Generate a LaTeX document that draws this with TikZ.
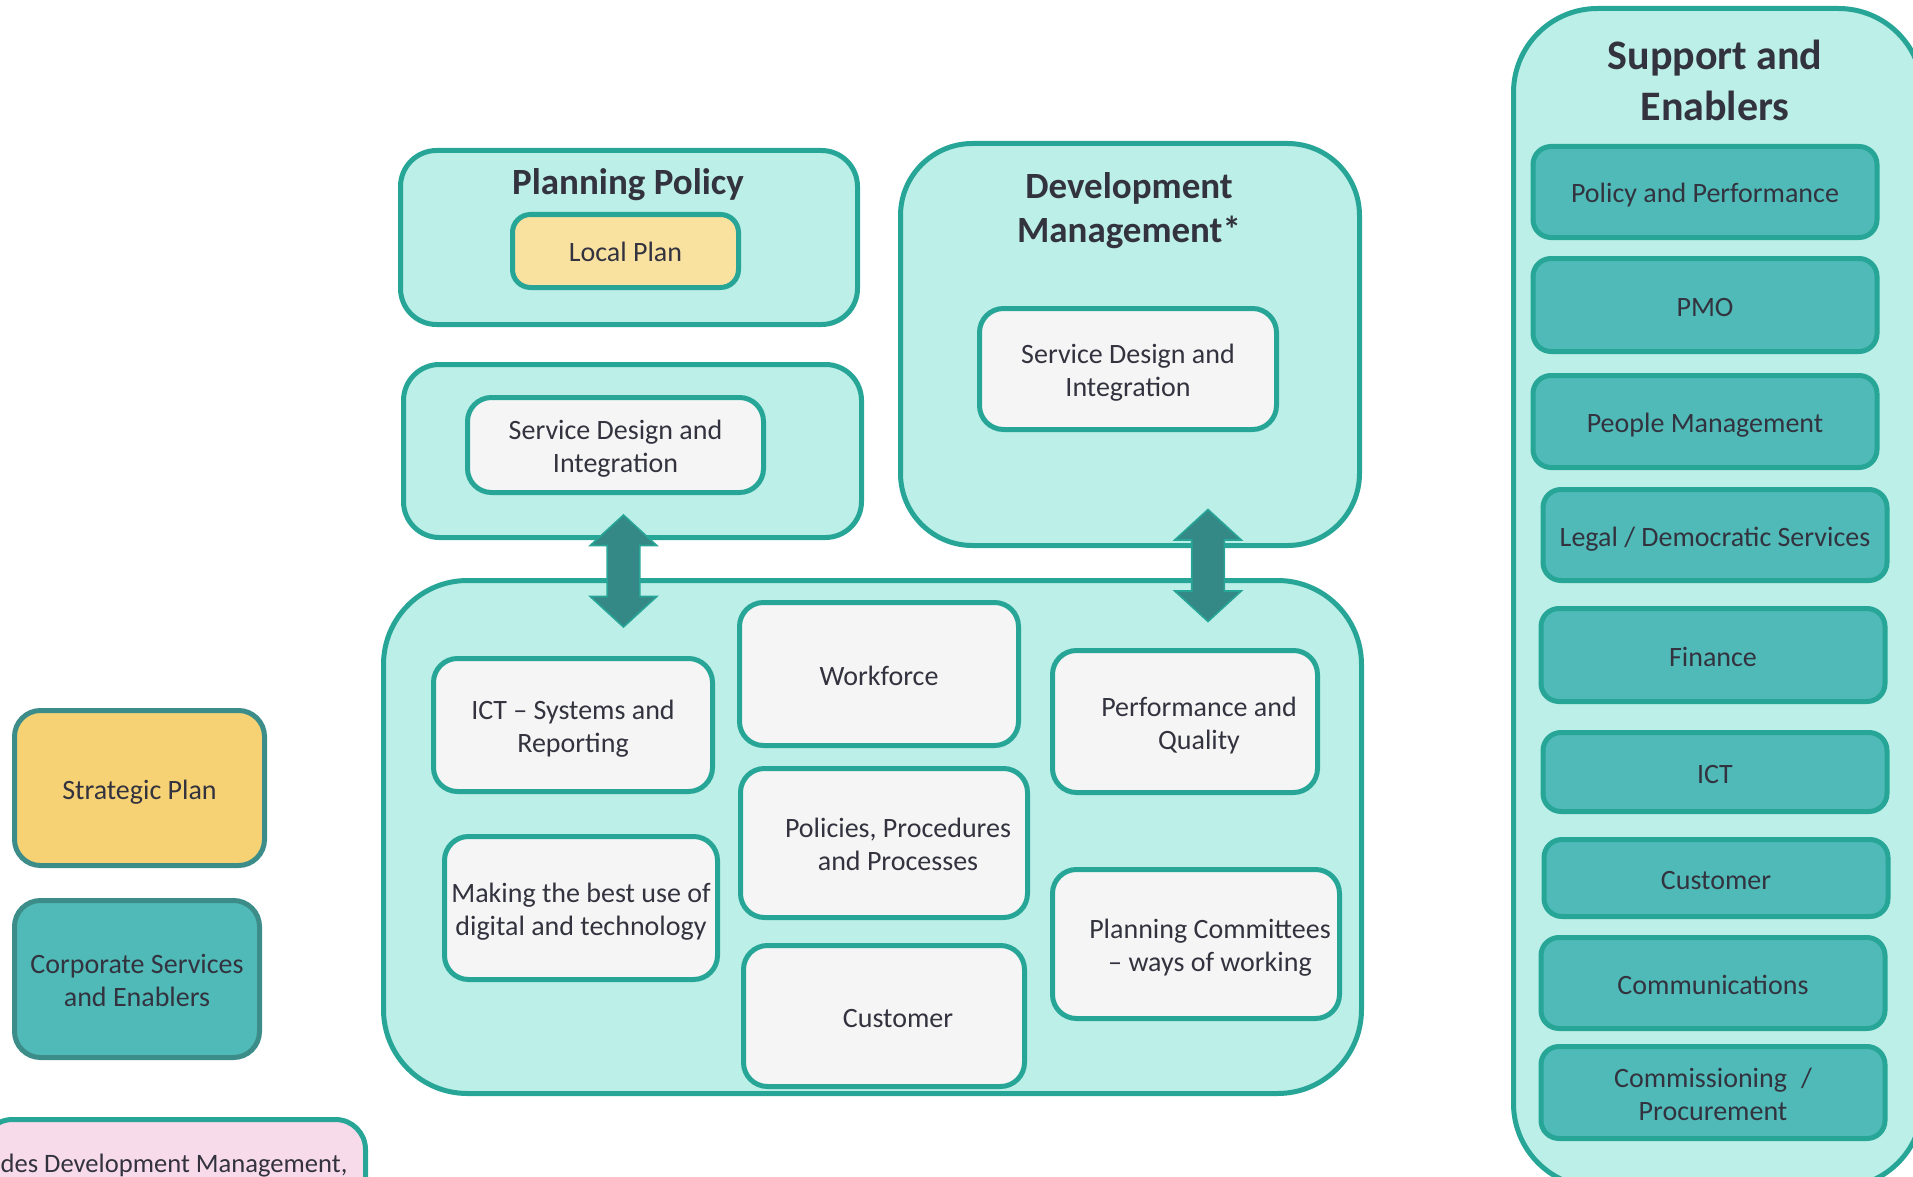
\documentclass[tikz,border=0pt]{standalone}
\usepackage{fontspec}
\setmainfont{Carlito}
\usetikzlibrary{positioning, shapes.arrows}

\definecolor{tealline}{HTML}{27A697}
\definecolor{darkline}{HTML}{3C8D89}
\definecolor{aqua}{HTML}{BCEFE8}
\definecolor{paper}{HTML}{F5F5F5}
\definecolor{sidefill}{HTML}{4FBAB7}
\definecolor{paleyellow}{HTML}{F9E1A0}
\definecolor{gold}{HTML}{F6D275}
\definecolor{arrowfill}{HTML}{348885}
\definecolor{pinkfill}{HTML}{F8DBEA}
\definecolor{ink}{HTML}{33333F}

\newcommand{\nudge}{\hspace*{14pt}}
\newcommand{\boxtop}{\rule{0pt}{14.5pt}}
\newcommand{\boxbot}{\rule[-3.5pt]{0pt}{0pt}}

\begin{document}
\begin{tikzpicture}[x=0.5pt, y=-0.5pt]
    \tikzstyle{every node}=[font=\fontsize{14}{16.5}\selectfont, text=ink]
    \tikzset{
      group/.style={draw=tealline, fill=aqua, line width=2.5pt, rectangle},
      item/.style={draw=tealline, fill=paper, line width=2.5pt, rectangle, rounded corners=12pt, align=center, inner sep=2pt},
      side/.style={draw=tealline, fill=sidefill, line width=2.5pt, rectangle, rounded corners=9pt, align=center, minimum width=172pt},
      key/.style={draw=darkline, line width=2.5pt, rectangle, rounded corners=13pt, align=center},
      heading/.style={font=\bfseries\fontsize{18.5}{22}\selectfont, align=center},
      link/.style={double arrow, draw=tealline, fill=arrowfill, line width=0.8pt, rotate=90, minimum height=56pt, minimum width=32.5pt, double arrow head extend=8.5pt, double arrow tip angle=95, inner sep=7.75pt}
    }
    \useasboundingbox (0,0) rectangle (1913,1177);

    % planning policy
    \node[group, rounded corners=18pt, minimum width=228.5pt, minimum height=87pt] (policy) at (629,237.5) {};
    \node[heading] (policytitle) at (628,184.5) {Planning Policy};
    \node[item, fill=paleyellow, rounded corners=9pt, minimum width=113pt, minimum height=36.5pt] (localplan) at (625.5,251) {\boxtop Local Plan\boxbot};

    \node[group, rounded corners=18pt, minimum width=229pt, minimum height=86.5pt] (design) at (632.5,451) {};
    \node[item, minimum width=148pt, minimum height=47.5pt] (designitem) at (615.5,445) {\boxtop Service Design and\\Integration\boxbot};

    % development management
    \node[group, rounded corners=36pt, minimum width=229.5pt, minimum height=201pt] (devman) at (1130,344.5) {};
    \node[heading] (devmantitle) at (1129,210.5) {Development\\Management*};
    \node[item, minimum width=148.5pt, minimum height=60.5pt] (devmanitem) at (1128,369) {\boxtop Service Design and\\Integration\boxbot};

    % core
    \node[group, rounded corners=42pt, minimum width=489pt, minimum height=256.5pt] (core) at (872.5,837) {};
    \node[item, minimum width=139.5pt, minimum height=66.5pt] (ict) at (573,725) {\boxtop ICT – Systems and\\Reporting\boxbot};
    \node[item, minimum width=139.5pt, minimum height=71.5pt] (workforce) at (879,674) {\boxtop Workforce\boxbot};
    \node[item, minimum width=132.5pt, minimum height=71pt] (quality) at (1185,721.5) {\nudge\boxtop Performance and\\\nudge Quality\boxbot};
    \node[item, minimum width=143.5pt, minimum height=74.5pt] (policies) at (884,843) {\nudge\boxtop Policies, Procedures\\\nudge and Processes\boxbot};
    \node[item, minimum width=136.5pt, minimum height=71.5pt] (digital) at (581,908) {\boxtop Making the best use of\\digital and technology\boxbot};
    \node[item, minimum width=140.5pt, minimum height=70.5pt] (customer) at (884,1016) {\nudge\boxtop Customer\boxbot};
    \node[item, minimum width=143.5pt, minimum height=74.5pt] (committees) at (1196,944) {\nudge\boxtop Planning Committees\\\nudge – ways of working\boxbot};

    % support and enablers
    \node[group, rounded corners=42pt, minimum width=204.5pt, minimum height=589.5pt] (support) at (1718,598) {};
    \node[heading, font=\bfseries\fontsize{21}{25.5}\selectfont] (supporttitle) at (1715,80) {Support and\\Enablers};
    \node[side, minimum height=45.5pt] (perf) at (1705,192) {\boxtop Policy and Performance\boxbot};
    \node[side, minimum height=46.5pt, below=8pt of perf] (pmo) {\boxtop PMO\boxbot};
    \node[side, minimum height=46pt, below=9.5pt of pmo] (people) {\boxtop People Management\boxbot};
    \node[side, minimum height=45.5pt, below=8.5pt of people, xshift=5pt] (legal) {\boxtop Legal / Democratic Services\boxbot};
    \node[side, minimum height=46.5pt, below=11.5pt of legal, xshift=-1pt] (finance) {\boxtop Finance\boxbot};
    \node[side, minimum height=39.5pt, below=13pt of finance, xshift=1pt] (ictside) {\boxtop ICT\boxbot};
    \node[side, minimum height=38.5pt, below=11.5pt of ictside, xshift=0.5pt] (custside) {\boxtop Customer\boxbot};
    \node[side, minimum height=45.5pt, below=8pt of custside, xshift=-1.5pt] (comms) {\boxtop Communications\boxbot};
    \node[side, minimum height=46pt, below=6.5pt of comms] (procure) {\boxtop Commissioning\enspace/\\Procurement\boxbot};

    % key
    \node[key, fill=gold, minimum width=125pt, minimum height=77.5pt] (strategic) at (139.5,788) {\boxtop Strategic Plan\boxbot};
    \node[key, fill=sidefill, minimum width=122.5pt, minimum height=78.5pt] (corporate) at (137,979) {\boxtop Corporate Services\\and Enablers\boxbot};
    \node[draw=tealline, fill=pinkfill, line width=2.5pt, rounded corners=15pt, minimum width=191.5pt, minimum height=47pt, font=\fontsize{13.3}{16}\selectfont] (note) at (174,1166.5) {\strut des Development Management,};

    % links
    \node[link] (designlink) at (623.5,571) {};
    \node[link] (devmanlink) at (1208,565.5) {};
\end{tikzpicture}
\end{document}
